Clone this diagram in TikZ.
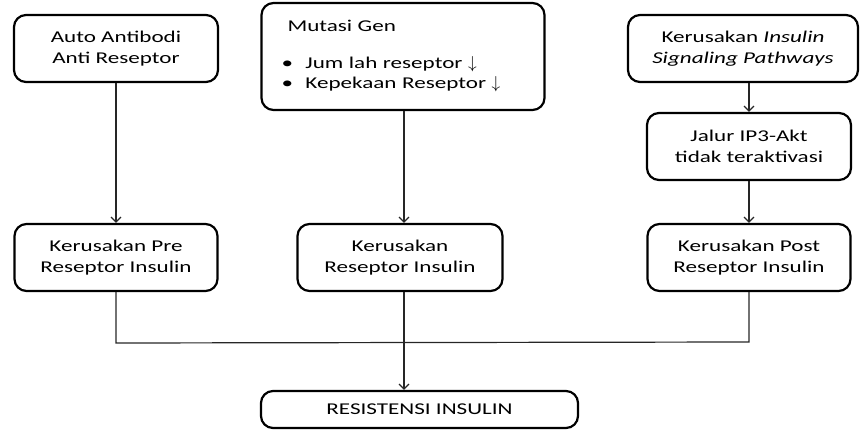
\documentclass[tikz,border=0pt]{standalone}
\usepackage{fontspec}
\setmainfont[FakeStretch=1.4]{Carlito}
\usetikzlibrary{arrows.meta}
\tikzset{
 kotak/.style={draw,line width=2.2pt,rounded corners=12pt,align=center,
  font=\fontsize{16.5}{20.5}\selectfont,inner sep=0pt},
 garis/.style={black!85,line width=1.2pt},
 panah/.style={garis,-{Straight Barb[length=5pt,width=10pt,line width=1.2pt]}}
}
\begin{document}
\begin{tikzpicture}[x=1pt,y=-1pt]
 \useasboundingbox (0,0) rectangle (861,430);
 \node [kotak,minimum width=204pt,minimum height=67pt] (auto) at (116,48.5) {Auto Antibodi\\Anti Reseptor};
 \node [kotak,minimum width=283pt,minimum height=107pt,text width=243pt,align=left] (mutasi) at (403,56.5)
  {\hspace*{6pt}Mutasi Gen\\[16pt]
   \makebox[24pt][l]{\textbullet}Jum lah reseptor $\downarrow$\\
   \makebox[24pt][l]{\textbullet}Kepekaan Reseptor $\downarrow$};
 \node [kotak,minimum width=230pt,minimum height=67pt] (signal) at (743,48.5) {Kerusakan \textit{Insulin}\\\textit{Signaling Pathways}};
 \node [kotak,minimum width=204pt,minimum height=67pt] (jalur) at (749,146.5) {Jalur IP3-Akt\\tidak teraktivasi};
 \node [kotak,minimum width=203pt,minimum height=67pt] (pre) at (116,257.5) {Kerusakan Pre\\Reseptor Insulin};
 \node [kotak,minimum width=205pt,minimum height=67pt] (resep) at (400,257.5) {Kerusakan\\Reseptor Insulin};
 \node [kotak,minimum width=203pt,minimum height=67pt] (post) at (749,257.5) {Kerusakan Post\\Reseptor Insulin};
 \node [kotak,minimum width=317pt,minimum height=37pt] (resist) at (419.5,409.5) {RESISTENSI INSULIN};
 \coordinate (jl) at (116,343);
 \coordinate (jr) at (749,342);
 \coordinate (hub) at (404,342);
 \draw [panah] (auto) -- (pre);
 \draw [panah] (hub |- mutasi.south) -- (hub |- resep.north);
 \draw [panah] (jalur.north |- signal.south) -- (jalur);
 \draw [panah] (jalur) -- (post);
 \draw [garis] (pre) -- (jl) -- (jr) -- (post);
 \draw [panah] (hub |- resep.south) -- (hub |- resist.north);
\end{tikzpicture}
\end{document}
